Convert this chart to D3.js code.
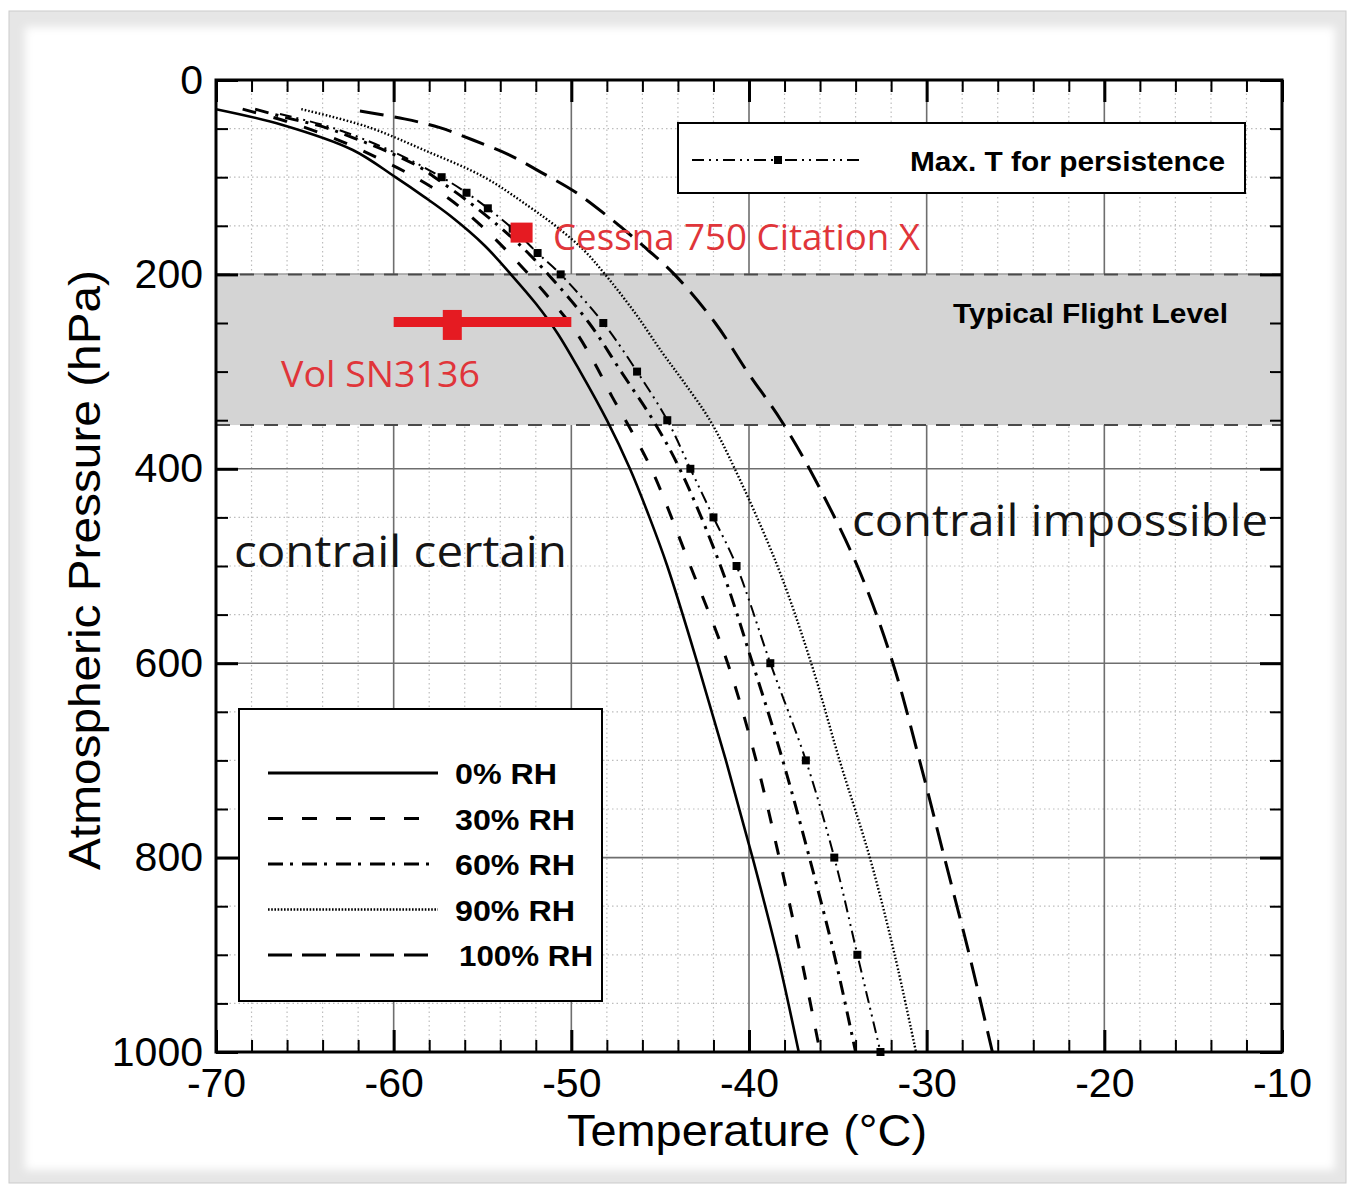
<!DOCTYPE html>
<html>
<head>
<meta charset="utf-8">
<script src="https://cdn.jsdelivr.net/npm/d3@7"></script>
<style>
  body { margin: 0; background: #fff; }
  text { font-family: "Liberation Sans", Arial, sans-serif; }
</style>
</head>
<body>
<svg width="1347" height="1184"></svg>
<script>

// curves: [pressure hPa, temperature °C]
var rh0 = [[30,-70.0],[46,-66.3],[72,-62.3],[100,-59.9],[120,-58.3],[140,-56.8],[170,-54.9],[200,-53.4],
  [230,-52.0],[260,-50.8],[300,-49.5],[350,-48.0],[400,-46.7],[450,-45.6],[500,-44.6],[600,-42.9],
  [700,-41.3],[800,-39.8],[900,-38.4],[1000,-37.2]];
var rh30 = [[30,-68.5],[45,-65.6],[65,-62.7],[82,-60.7],[100,-58.8],[122,-56.9],[151,-55.0],[186,-53.1],
  [221,-51.4],[255,-49.9],[291,-48.7],[326,-47.7],[355,-46.8],[400,-45.5],[500,-43.3],[600,-41.2],
  [700,-39.6],[800,-38.3],[900,-37.1],[1000,-36.0]];
var rh60 = [[30,-67.8],[39,-66.0],[48,-64.0],[60,-62.2],[74,-60.3],[90,-58.5],[100,-57.7],[125,-55.8],
  [150,-54.1],[175,-52.6],[200,-51.3],[250,-49.0],[300,-47.2],[350,-45.4],[400,-43.9],[500,-41.6],
  [600,-39.8],[700,-38.1],[800,-36.6],[900,-35.2],[1000,-34.0]];
var rh90 = [[30,-65.2],[48,-61.5],[72,-58.3],[100,-54.9],[130,-52.4],[150,-50.9],[175,-49.3],[200,-48.1],
  [240,-46.4],[280,-44.9],[310,-43.7],[350,-42.2],[400,-40.8],[500,-38.4],[600,-36.5],[700,-34.9],
  [800,-33.2],[900,-31.8],[1000,-30.6]];
var rh100 = [[32,-61.9],[40,-59.4],[49,-57.4],[62,-55.5],[77,-53.5],[95,-51.7],[115,-49.8],[141,-47.9],
  [170,-46.0],[200,-44.2],[250,-41.9],[300,-40.1],[350,-38.2],[400,-36.6],[500,-33.9],[600,-31.9],
  [700,-30.4],[800,-29.0],[900,-27.6],[1000,-26.3]];
var persist = [[35,-66.4],[50,-63.3],[75,-59.9],[100,-57.3],[116,-55.9],[132,-54.7],[153,-53.3],[178,-51.9],
  [200,-50.6],[250,-48.2],[300,-46.3],[350,-44.6],[400,-43.3],[450,-42.0],[500,-40.7],[600,-38.8],
  [700,-36.8],[800,-35.2],[900,-33.9],[1000,-32.6]];
var persistMarks = [100,116,132,153,178,200,250,300,350,400,450,500,600,700,800,900,1000];

var rhLabels = ["0% RH", "30% RH", "60% RH", "90% RH", "100% RH"];
var xTicks = [-70, -60, -50, -40, -30, -20, -10];
var yTicks = [0, 200, 400, 600, 800, 1000];
var flightLevel = [200, 355];
var cessna = [-52.8, 157];
var vol = [-56.7, 252];
var volRange = [-60, -50];

var svg = d3.select("svg");

// outer frame with soft shadow
var defs = svg.append("defs");
defs.append("filter").attr("id", "soft")
  .append("feGaussianBlur").attr("stdDeviation", 4);
svg.append("rect").attr("x", 9).attr("y", 11).attr("width", 1337).attr("height", 1172)
  .attr("fill", "#e6e6e6").attr("stroke", "#cbcbcb");
svg.append("rect").attr("x", 25).attr("y", 27).attr("width", 1310).attr("height", 1143)
  .attr("fill", "#fff").attr("filter", "url(#soft)");

// scales
var x = d3.scaleLinear().domain([-70, -10]).range([216, 1282]);
var y = d3.scaleLinear().domain([0, 1000]).range([80, 1052]);

var xMinor = d3.range(-70, -9, 2).filter(function (d) { return d % 10 != 0; });
var yMinor = d3.range(0, 1001, 50).filter(function (d) { return d % 200 != 0; });

// minor grid (dotted)
var grid = svg.append("g");
grid.selectAll(".vx").data(xMinor).enter().append("line")
  .attr("x1", d => x(d)).attr("x2", d => x(d)).attr("y1", y(0)).attr("y2", y(1000))
  .attr("stroke", "#bdbdbd").attr("stroke-width", 1.2).attr("stroke-dasharray", "1.5,3");
grid.selectAll(".hy").data(yMinor).enter().append("line")
  .attr("x1", x(-70)).attr("x2", x(-10)).attr("y1", d => y(d)).attr("y2", d => y(d))
  .attr("stroke", "#bdbdbd").attr("stroke-width", 1.2).attr("stroke-dasharray", "1.5,3");
// major grid
grid.selectAll(".mx").data(xTicks.slice(1, -1)).enter().append("line")
  .attr("x1", d => x(d)).attr("x2", d => x(d)).attr("y1", y(0)).attr("y2", y(1000))
  .attr("stroke", "#6e6e6e").attr("stroke-width", 1.6);
grid.selectAll(".my").data(yTicks.slice(1, -1)).enter().append("line")
  .attr("x1", x(-70)).attr("x2", x(-10)).attr("y1", d => y(d)).attr("y2", d => y(d))
  .attr("stroke", "#6e6e6e").attr("stroke-width", 1.6);

// typical flight level band
svg.append("rect")
  .attr("x", x(-70)).attr("width", x(-10) - x(-70))
  .attr("y", y(flightLevel[0])).attr("height", y(flightLevel[1]) - y(flightLevel[0]))
  .attr("fill", "#d4d4d4");
svg.selectAll(".band").data(flightLevel).enter().append("line")
  .attr("x1", x(-70)).attr("x2", x(-10)).attr("y1", d => y(d)).attr("y2", d => y(d))
  .attr("stroke", "#4a4a4a").attr("stroke-width", 2).attr("stroke-dasharray", "14,10");
svg.append("text").attr("x", 953).attr("y", 323)
  .attr("font-size", 28).attr("font-weight", "bold")
  .attr("textLength", 275).attr("lengthAdjust", "spacingAndGlyphs")
  .text("Typical Flight Level");

// curves
var line = d3.line()
  .x(function (d) { return x(d[1]); })
  .y(function (d) { return y(d[0]); })
  .curve(d3.curveCatmullRom.alpha(0.5));

var styles = [
  { data: rh0, dash: null, w: 2.6 },
  { data: rh30, dash: "14,18", w: 3 },
  { data: rh60, dash: "14,7,3,7", w: 3 },
  { data: rh90, dash: "1.6,2", w: 2.4 },
  { data: rh100, dash: "24,11", w: 3 }
];

svg.append("g").selectAll("path").data(styles).enter().append("path")
  .attr("d", d => line(d.data))
  .attr("fill", "none").attr("stroke", "#000")
  .attr("stroke-width", d => d.w)
  .attr("stroke-dasharray", d => d.dash);

svg.append("path").attr("d", line(persist))
  .attr("fill", "none").attr("stroke", "#000").attr("stroke-width", 2)
  .attr("stroke-dasharray", "12,5,2,5,2,5");

var persistFn = d3.scaleLinear().domain(persist.map(d => d[0])).range(persist.map(d => d[1]));
svg.append("g").selectAll("rect").data(persistMarks).enter().append("rect")
  .attr("x", d => x(persistFn(d)) - 4).attr("y", d => y(d) - 4)
  .attr("width", 8).attr("height", 8).attr("fill", "#000");

// legend: max T for persistence
var lg1 = svg.append("g");
lg1.append("rect").attr("x", 678).attr("y", 123).attr("width", 567).attr("height", 70)
  .attr("fill", "#fff").attr("stroke", "#000").attr("stroke-width", 2);
lg1.append("line").attr("x1", 692).attr("x2", 862).attr("y1", 160).attr("y2", 160)
  .attr("stroke", "#000").attr("stroke-width", 2).attr("stroke-dasharray", "12,5,2,5,2,5");
lg1.append("rect").attr("x", 774).attr("y", 156).attr("width", 8).attr("height", 8).attr("fill", "#000");
lg1.append("text").attr("x", 910).attr("y", 171)
  .attr("font-size", 28).attr("font-weight", "bold")
  .attr("textLength", 315).attr("lengthAdjust", "spacingAndGlyphs")
  .text("Max. T for persistence");

// legend: RH curves
var lg2 = svg.append("g");
lg2.append("rect").attr("x", 239).attr("y", 709).attr("width", 363).attr("height", 292)
  .attr("fill", "#fff").attr("stroke", "#000").attr("stroke-width", 2);
var rowY = d3.scalePoint().domain(rhLabels).range([773, 955]);
var lgDash = ["", "15,19", "15,7,3,9", "1.6,1.6", "24,10"];
lg2.selectAll("line").data(rhLabels).enter().append("line")
  .attr("x1", 268).attr("x2", 438)
  .attr("y1", d => rowY(d)).attr("y2", d => rowY(d))
  .attr("stroke", "#000").attr("stroke-width", (d, i) => i == 3 ? 2.4 : 3)
  .attr("stroke-dasharray", (d, i) => lgDash[i] || null);
lg2.selectAll("text").data(rhLabels).enter().append("text")
  .attr("x", (d, i) => i == 4 ? 459 : 455)
  .attr("y", d => rowY(d) + 11)
  .attr("font-size", 30).attr("font-weight", "bold")
  .attr("textLength", (d, i) => [102, 120, 120, 120, 134][i]).attr("lengthAdjust", "spacingAndGlyphs")
  .text(d => d);

// region labels
var labelFont = '"Open Sans", "Noto Sans", sans-serif';
svg.append("text").attr("x", 234).attr("y", 567)
  .style("font-family", labelFont).attr("font-size", 44).attr("fill", "#151515")
  .attr("textLength", 333).attr("lengthAdjust", "spacingAndGlyphs")
  .text("contrail certain");
svg.append("text").attr("x", 852).attr("y", 536)
  .style("font-family", labelFont).attr("font-size", 44).attr("fill", "#151515")
  .attr("textLength", 416).attr("lengthAdjust", "spacingAndGlyphs")
  .text("contrail impossible");

// aircraft markers
var red = "#e51b22";
svg.append("line").attr("x1", x(volRange[0])).attr("x2", x(volRange[1]))
  .attr("y1", y(vol[1]) - 3).attr("y2", y(vol[1]) - 3)
  .attr("stroke", red).attr("stroke-width", 10);
svg.append("rect").attr("x", x(vol[0]) - 9.5).attr("y", y(vol[1]) - 15)
  .attr("width", 19).attr("height", 30).attr("fill", red);
svg.append("rect").attr("x", x(cessna[0]) - 11).attr("y", y(cessna[1]) - 10)
  .attr("width", 22).attr("height", 20).attr("fill", red);
svg.append("text").attr("x", 553).attr("y", 250)
  .style("font-family", labelFont).attr("font-size", 37).attr("fill", "#e0353a")
  .attr("textLength", 367).attr("lengthAdjust", "spacingAndGlyphs")
  .text("Cessna 750 Citation X");
svg.append("text").attr("x", 281).attr("y", 387)
  .style("font-family", labelFont).attr("font-size", 37).attr("fill", "#e0353a")
  .attr("textLength", 199).attr("lengthAdjust", "spacingAndGlyphs")
  .text("Vol SN3136");

// axes (ticks point inward on all four sides)
function tickAxis(axis, vals, size, width, pos, labels, pad) {
  var g = svg.append("g").attr("transform", pos)
    .call(axis.tickValues(vals).tickSize(-size).tickPadding(pad || 3)
      .tickFormat(labels ? function (d) { return d; } : function () { return ""; }));
  g.select(".domain").remove();
  g.selectAll(".tick line").attr("stroke", "#000").attr("stroke-width", width);
  g.selectAll(".tick text").attr("font-size", 41).attr("fill", "#000")
    .style("font-family", '"Liberation Sans", Arial, sans-serif');
  return g;
}
tickAxis(d3.axisBottom(x), xTicks, 22, 3, "translate(0," + y(1000) + ")", true, 16);
tickAxis(d3.axisBottom(x), xMinor, 12, 2, "translate(0," + y(1000) + ")", false);
tickAxis(d3.axisTop(x), xTicks, 22, 3, "translate(0," + y(0) + ")", false);
tickAxis(d3.axisTop(x), xMinor, 12, 2, "translate(0," + y(0) + ")", false);
tickAxis(d3.axisLeft(y), yTicks, 22, 3, "translate(" + x(-70) + ",0)", true, 13);
tickAxis(d3.axisLeft(y), yMinor, 12, 2, "translate(" + x(-70) + ",0)", false);
tickAxis(d3.axisRight(y), yTicks, 22, 3, "translate(" + x(-10) + ",0)", false);
tickAxis(d3.axisRight(y), yMinor, 12, 2, "translate(" + x(-10) + ",0)", false);

svg.append("rect").attr("x", x(-70)).attr("y", y(0))
  .attr("width", x(-10) - x(-70)).attr("height", y(1000) - y(0))
  .attr("fill", "none").attr("stroke", "#000").attr("stroke-width", 3);

// axis titles
svg.append("text").attr("x", 747).attr("y", 1146).attr("text-anchor", "middle")
  .attr("font-size", 44).attr("textLength", 360).attr("lengthAdjust", "spacingAndGlyphs")
  .text("Temperature (°C)");
svg.append("text").attr("transform", "translate(100,570) rotate(-90)")
  .attr("text-anchor", "middle").attr("font-size", 44)
  .attr("textLength", 600).attr("lengthAdjust", "spacingAndGlyphs")
  .text("Atmospheric Pressure (hPa)");

</script>
</body>
</html>
